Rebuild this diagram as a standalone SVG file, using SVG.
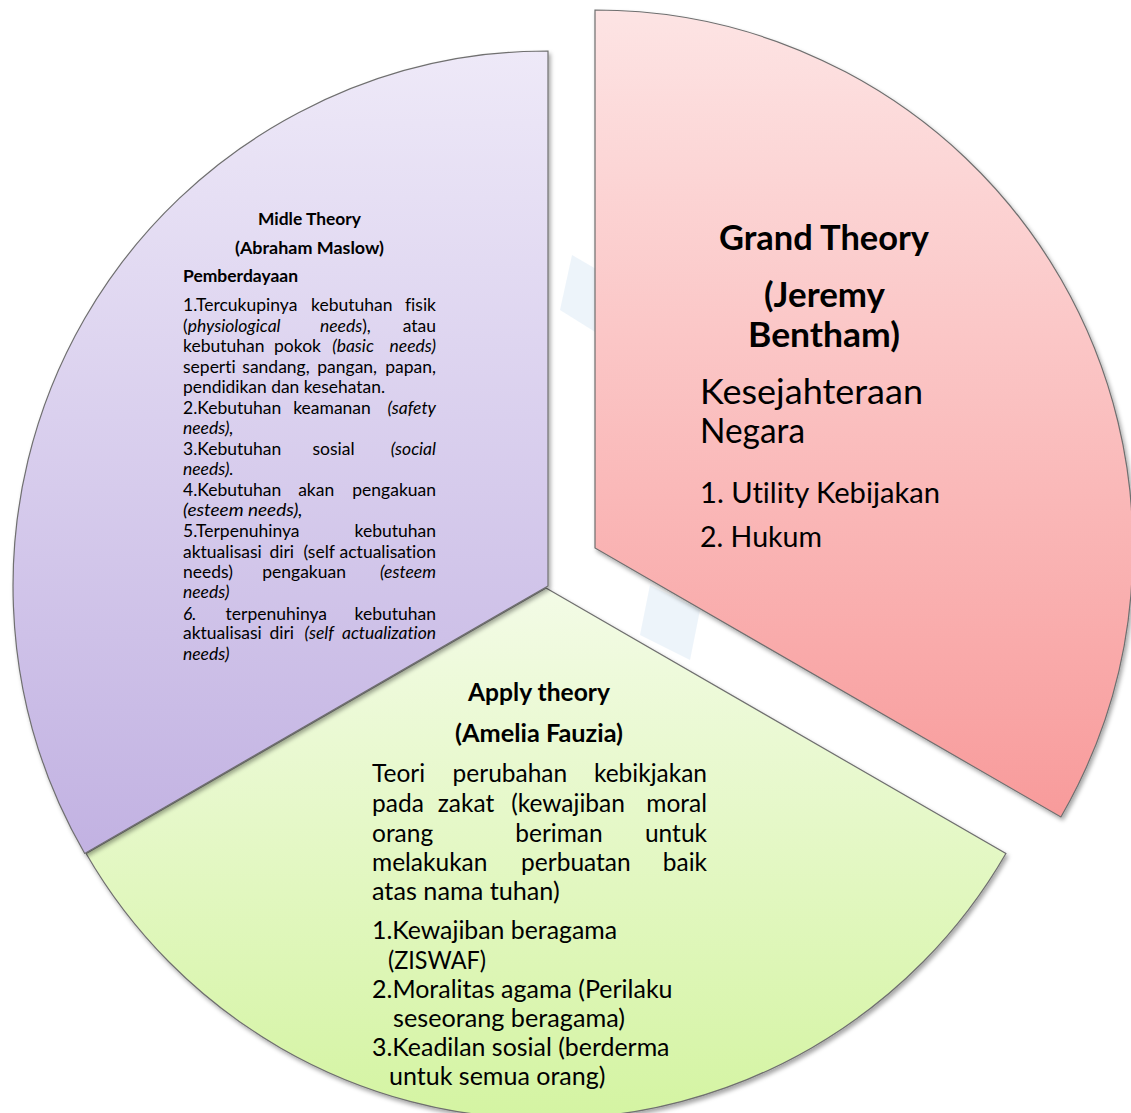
<svg xmlns="http://www.w3.org/2000/svg" width="1131" height="1113" viewBox="0 0 1131 1113">
<style>
text{font-family:Lato,"Liberation Sans",sans-serif;fill:#000;font-variant-ligatures:none;font-feature-settings:"liga" 0,"clig" 0}
.p{font-size:17.5px}
.b{font-weight:bold}
.i{font-style:italic}
.m{text-anchor:middle}
.e{text-anchor:end}
.g{font-size:24.5px}
.seg{stroke:#6f6f6f;stroke-width:1.2;filter:url(#sh)}
</style>
<defs>
<linearGradient id="gr" x1="0" y1="0" x2="0" y2="1"><stop offset="0" stop-color="#fde4e4"/><stop offset="1" stop-color="#f89b9b"/></linearGradient>
<linearGradient id="gp" x1="0" y1="0" x2="0" y2="1"><stop offset="0" stop-color="#eee9f8"/><stop offset="1" stop-color="#c2b2e2"/></linearGradient>
<linearGradient id="gg" x1="0" y1="0" x2="0" y2="1"><stop offset="0" stop-color="#f3fbe6"/><stop offset="1" stop-color="#d4f4a2"/></linearGradient>
<filter id="sh" x="-5%" y="-5%" width="110%" height="110%"><feDropShadow dx="2" dy="3" stdDeviation="2" flood-color="#000" flood-opacity="0.35"/></filter>
</defs>
<rect width="1131" height="1113" fill="#fff"/>
<g id="watermark" opacity="0.18">
<polygon points="572,255 615,280 600,335 560,310" fill="#9cc3e6"/>
<polygon points="650,585 700,610 690,660 640,635" fill="#9cc3e6"/>
</g>
<g id="segments">
<g id="apply">
<path class="seg" d="M546,588 L1005.9,853.5 A531,531 0 0 1 86.1,853.5 Z" fill="url(#gg)"/>
</g>
<g id="midle">
<path class="seg" d="M548,586 L84.7,853.5 A535,535 0 0 1 548,51 Z" fill="url(#gp)"/>
</g>
<g id="grand">
<path class="seg" d="M595,548 L595,10 A538,538 0 0 1 1060.9,817 Z" fill="url(#gr)"/>
</g>
</g>
<g id="midle-text" class="p">
<text x="309.5" y="225" class="p b m" textLength="103" lengthAdjust="spacingAndGlyphs">Midle Theory</text>
<text x="309.5" y="254" class="p b m" textLength="149" lengthAdjust="spacingAndGlyphs">(Abraham Maslow)</text>
<text x="183" y="282" class="p b" textLength="115" lengthAdjust="spacingAndGlyphs">Pemberdayaan</text>
<text x="183" y="311" class="p">1.Tercukupinya</text><text x="351.8" y="311" class="p m">kebutuhan</text><text x="436" y="311" class="p e">fisik</text>
<text x="183" y="331.5" class="p">(<tspan class="i">physiological</tspan></text><text x="345.4" y="331.5" class="p m"><tspan class="i">needs</tspan>),</text><text x="436" y="331.5" class="p e">atau</text>
<text x="183" y="352" class="p">kebutuhan</text><text x="297.5" y="352" class="p m">pokok</text><text x="353" y="352" class="p m i">(basic</text><text x="436" y="352" class="p e i">needs)</text>
<text x="183" y="372.7" class="p">seperti</text><text x="276" y="372.7" class="p m">sandang,</text><text x="347.2" y="372.7" class="p m">pangan,</text><text x="436" y="372.7" class="p e">papan,</text>
<text x="183" y="393" class="p" textLength="202" lengthAdjust="spacingAndGlyphs">pendidikan dan kesehatan.</text>
<text x="183" y="414" class="p">2.Kebutuhan</text><text x="332" y="414" class="p m">keamanan</text><text x="436" y="414" class="p e i">(safety</text>
<text x="183" y="434" class="p i">needs),</text>
<text x="183" y="454.5" class="p">3.Kebutuhan</text><text x="333.6" y="454.5" class="p m">sosial</text><text x="436" y="454.5" class="p e i">(social</text>
<text x="183" y="475" class="p i">needs).</text>
<text x="183" y="495.7" class="p">4.Kebutuhan</text><text x="316.2" y="495.7" class="p m">akan</text><text x="436" y="495.7" class="p e">pengakuan</text>
<text x="183" y="515.7" class="p i" textLength="119.6" lengthAdjust="spacingAndGlyphs">(esteem needs),</text>
<text x="183" y="537" class="p">5.Terpenuhinya</text><text x="436" y="537" class="p e">kebutuhan</text>
<text x="183" y="557.6" class="p">aktualisasi</text><text x="281.8" y="557.6" class="p m">diri</text><text x="319.2" y="557.6" class="p m">(self</text><text x="436" y="557.6" class="p e">actualisation</text>
<text x="183" y="578" class="p">needs)</text><text x="304.1" y="578" class="p m">pengakuan</text><text x="436" y="578" class="p e i">(esteem</text>
<text x="183" y="598" class="p i">needs)</text>
<text x="183" y="619.5" class="p i">6.</text><text x="276.3" y="619.5" class="p m">terpenuhinya</text><text x="436" y="619.5" class="p e">kebutuhan</text>
<text x="183" y="639.4" class="p">aktualisasi</text><text x="281.8" y="639.4" class="p m">diri</text><text x="319.2" y="639.4" class="p m i">(self</text><text x="436" y="639.4" class="p e i">actualization</text>
<text x="183" y="660" class="p i">needs)</text>
</g>
<g id="grand-text">
<text x="824" y="250" class="b m" font-size="34.5" textLength="210" lengthAdjust="spacingAndGlyphs">Grand Theory</text>
<text x="824.5" y="307" class="b m" font-size="34.5" textLength="121" lengthAdjust="spacingAndGlyphs">(Jeremy</text>
<text x="824" y="347" class="b m" font-size="34.5" textLength="152" lengthAdjust="spacingAndGlyphs">Bentham)</text>
<text x="700" y="404" font-size="35" textLength="223" lengthAdjust="spacingAndGlyphs">Kesejahteraan</text>
<text x="700" y="443" font-size="35" textLength="105" lengthAdjust="spacingAndGlyphs">Negara</text>
<text x="700" y="503" font-size="29" textLength="240" lengthAdjust="spacingAndGlyphs">1. Utility Kebijakan</text>
<text x="700" y="547" font-size="29" textLength="122" lengthAdjust="spacingAndGlyphs">2. Hukum</text>
</g>
<g id="apply-text">
<text x="539" y="701" class="g b m" textLength="142" lengthAdjust="spacingAndGlyphs">Apply theory</text>
<text x="539" y="742" class="g b m" textLength="168" lengthAdjust="spacingAndGlyphs">(Amelia Fauzia)</text>
<text x="372" y="782" class="g">Teori</text><text x="509.9" y="782" class="g m">perubahan</text><text x="707" y="782" class="g e">kebikjakan</text>
<text x="372" y="812" class="g">pada</text><text x="466" y="812" class="g m">zakat</text><text x="568" y="812" class="g m">(kewajiban</text><text x="707" y="812" class="g e">moral</text>
<text x="372" y="842" class="g">orang</text><text x="559" y="842" class="g m">beriman</text><text x="707" y="842" class="g e">untuk</text>
<text x="372" y="871" class="g">melakukan</text><text x="575.9" y="871" class="g m">perbuatan</text><text x="707" y="871" class="g e">baik</text>
<text x="372" y="899.5" class="g" textLength="187.7" lengthAdjust="spacingAndGlyphs">atas nama tuhan)</text>
<text x="372" y="939" class="g" textLength="245" lengthAdjust="spacingAndGlyphs">1.Kewajiban beragama</text>
<text x="388" y="969" class="g" textLength="98" lengthAdjust="spacingAndGlyphs">(ZISWAF)</text>
<text x="372" y="998" class="g" textLength="300.5" lengthAdjust="spacingAndGlyphs">2.Moralitas agama (Perilaku</text>
<text x="393" y="1027" class="g" textLength="232" lengthAdjust="spacingAndGlyphs">seseorang beragama)</text>
<text x="372" y="1056" class="g" textLength="297.5" lengthAdjust="spacingAndGlyphs">3.Keadilan sosial (berderma</text>
<text x="389" y="1085" class="g" textLength="216.5" lengthAdjust="spacingAndGlyphs">untuk semua orang)</text>
</g>
</svg>
